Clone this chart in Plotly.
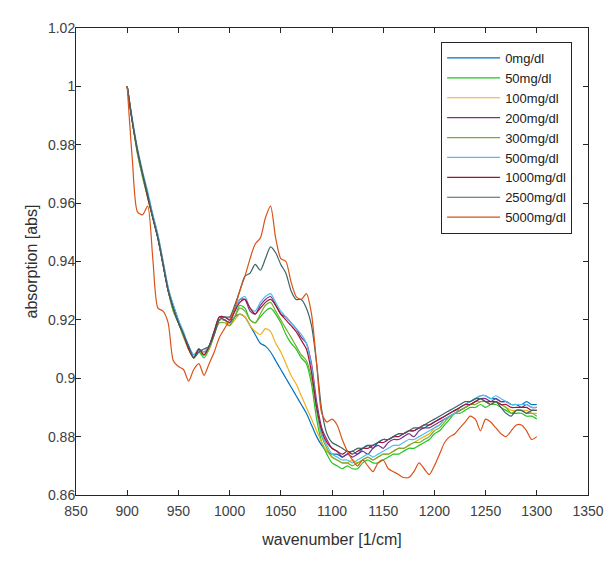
import plotly.graph_objects as go

# wavenumber grid (1/cm)
wavenumber = list(range(900, 1301, 5))

series_names = ["0mg/dl", "50mg/dl", "100mg/dl", "200mg/dl", "300mg/dl",
                "500mg/dl", "1000mg/dl", "2500mg/dl", "5000mg/dl"]
series_colors = ["#0072BD", "#1FC41F", "#EDB120", "#7E2F8E", "#77AC30",
                 "#4DBEEE", "#A2142F", "#3D6565", "#D95319"]

abs_0 = [
    1.000, 0.988, 0.978, 0.970, 0.963, 0.956, 0.949, 0.940, 0.931, 0.925,
    0.920, 0.915, 0.911, 0.908, 0.910, 0.908, 0.911, 0.916, 0.920, 0.920,
    0.919, 0.921, 0.922, 0.921, 0.918, 0.915, 0.912, 0.911, 0.909, 0.906,
    0.903, 0.900, 0.897, 0.894, 0.891, 0.888, 0.884, 0.880, 0.877, 0.875,
    0.874, 0.874, 0.873, 0.874, 0.875, 0.874, 0.876, 0.877, 0.876, 0.878,
    0.879, 0.879, 0.880, 0.881, 0.881, 0.882, 0.882, 0.883, 0.883, 0.884,
    0.885, 0.886, 0.887, 0.888, 0.889, 0.890, 0.891, 0.892, 0.893, 0.894,
    0.894, 0.893, 0.893, 0.892, 0.892, 0.891, 0.891, 0.891, 0.892, 0.891,
    0.891]
abs_50 = [
    1.000, 0.988, 0.977, 0.969, 0.962, 0.955, 0.948, 0.939, 0.930, 0.923,
    0.919, 0.915, 0.910, 0.907, 0.909, 0.907, 0.910, 0.915, 0.920, 0.920,
    0.918, 0.921, 0.925, 0.924, 0.920, 0.919, 0.921, 0.923, 0.924, 0.922,
    0.919, 0.915, 0.912, 0.910, 0.907, 0.905, 0.898, 0.886, 0.878, 0.874,
    0.871, 0.870, 0.869, 0.870, 0.869, 0.869, 0.871, 0.872, 0.871, 0.871,
    0.872, 0.873, 0.874, 0.874, 0.875, 0.876, 0.876, 0.877, 0.878, 0.879,
    0.881, 0.882, 0.884, 0.886, 0.888, 0.888, 0.889, 0.890, 0.890, 0.891,
    0.890, 0.891, 0.891, 0.890, 0.889, 0.888, 0.888, 0.888, 0.887, 0.887,
    0.886]
abs_100 = [
    1.000, 0.988, 0.978, 0.970, 0.962, 0.955, 0.948, 0.939, 0.930, 0.924,
    0.919, 0.915, 0.910, 0.907, 0.910, 0.908, 0.910, 0.915, 0.920, 0.920,
    0.918, 0.920, 0.922, 0.921, 0.918, 0.916, 0.915, 0.917, 0.916, 0.912,
    0.909, 0.905, 0.901, 0.898, 0.894, 0.890, 0.886, 0.882, 0.878, 0.875,
    0.873, 0.872, 0.871, 0.871, 0.872, 0.871, 0.872, 0.873, 0.872, 0.873,
    0.874, 0.874, 0.875, 0.876, 0.876, 0.877, 0.878, 0.879, 0.880, 0.881,
    0.883, 0.884, 0.886, 0.887, 0.888, 0.889, 0.890, 0.891, 0.892, 0.892,
    0.892, 0.891, 0.892, 0.891, 0.890, 0.889, 0.889, 0.889, 0.889, 0.888,
    0.888]
abs_200 = [
    1.000, 0.988, 0.978, 0.970, 0.963, 0.955, 0.948, 0.939, 0.930, 0.924,
    0.919, 0.915, 0.911, 0.907, 0.910, 0.909, 0.911, 0.916, 0.921, 0.920,
    0.919, 0.923, 0.927, 0.927, 0.923, 0.922, 0.925, 0.927, 0.928, 0.925,
    0.922, 0.921, 0.919, 0.917, 0.914, 0.912, 0.905, 0.892, 0.883, 0.879,
    0.876, 0.875, 0.873, 0.874, 0.873, 0.874, 0.875, 0.874, 0.876, 0.877,
    0.876, 0.878, 0.879, 0.879, 0.880, 0.881, 0.880, 0.882, 0.883, 0.883,
    0.884, 0.885, 0.886, 0.887, 0.888, 0.889, 0.890, 0.891, 0.892, 0.893,
    0.893, 0.892, 0.893, 0.892, 0.892, 0.891, 0.891, 0.890, 0.891, 0.890,
    0.890]
abs_300 = [
    1.000, 0.988, 0.977, 0.969, 0.962, 0.955, 0.948, 0.939, 0.930, 0.923,
    0.919, 0.914, 0.910, 0.907, 0.909, 0.908, 0.910, 0.915, 0.919, 0.919,
    0.918, 0.921, 0.924, 0.923, 0.920, 0.919, 0.922, 0.925, 0.926, 0.923,
    0.920, 0.917, 0.914, 0.911, 0.908, 0.906, 0.900, 0.889, 0.880, 0.876,
    0.873, 0.872, 0.871, 0.871, 0.870, 0.871, 0.872, 0.873, 0.872, 0.873,
    0.874, 0.874, 0.875, 0.876, 0.876, 0.877, 0.878, 0.878, 0.879, 0.880,
    0.882, 0.883, 0.885, 0.887, 0.888, 0.889, 0.890, 0.891, 0.891, 0.892,
    0.892, 0.891, 0.892, 0.891, 0.890, 0.888, 0.889, 0.889, 0.888, 0.888,
    0.887]
abs_500 = [
    1.000, 0.989, 0.979, 0.971, 0.964, 0.956, 0.949, 0.940, 0.931, 0.925,
    0.920, 0.916, 0.911, 0.908, 0.910, 0.909, 0.911, 0.916, 0.921, 0.921,
    0.920, 0.923, 0.927, 0.928, 0.924, 0.923, 0.926, 0.928, 0.929, 0.926,
    0.923, 0.921, 0.919, 0.917, 0.915, 0.912, 0.904, 0.890, 0.881, 0.877,
    0.874, 0.873, 0.872, 0.872, 0.871, 0.872, 0.873, 0.874, 0.873, 0.874,
    0.875, 0.876, 0.877, 0.877, 0.878, 0.879, 0.879, 0.880, 0.881, 0.882,
    0.883, 0.884, 0.886, 0.887, 0.888, 0.890, 0.891, 0.892, 0.893, 0.894,
    0.894, 0.893, 0.894, 0.893, 0.892, 0.891, 0.891, 0.891, 0.891, 0.890,
    0.890]
abs_1000 = [
    1.000, 0.988, 0.978, 0.970, 0.962, 0.955, 0.948, 0.939, 0.930, 0.924,
    0.919, 0.915, 0.910, 0.907, 0.910, 0.908, 0.911, 0.916, 0.921, 0.921,
    0.920, 0.923, 0.926, 0.927, 0.924, 0.922, 0.924, 0.926, 0.927, 0.925,
    0.922, 0.920, 0.918, 0.916, 0.913, 0.910, 0.902, 0.890, 0.882, 0.878,
    0.876, 0.875, 0.874, 0.875, 0.874, 0.875, 0.876, 0.876, 0.877, 0.878,
    0.878, 0.879, 0.880, 0.880, 0.881, 0.882, 0.882, 0.883, 0.884, 0.884,
    0.885, 0.886, 0.887, 0.888, 0.889, 0.890, 0.891, 0.891, 0.892, 0.893,
    0.892, 0.892, 0.892, 0.891, 0.891, 0.890, 0.890, 0.890, 0.890, 0.889,
    0.889]
abs_2500 = [
    1.000, 0.988, 0.978, 0.970, 0.963, 0.955, 0.948, 0.939, 0.930, 0.924,
    0.919, 0.915, 0.911, 0.907, 0.909, 0.910, 0.911, 0.915, 0.920, 0.921,
    0.921, 0.925, 0.930, 0.935, 0.936, 0.939, 0.937, 0.941, 0.945, 0.943,
    0.939, 0.936, 0.930, 0.927, 0.927, 0.924, 0.918, 0.905, 0.889, 0.881,
    0.878, 0.877, 0.876, 0.875, 0.875, 0.876, 0.876, 0.877, 0.877, 0.878,
    0.879, 0.879, 0.880, 0.881, 0.881, 0.882, 0.883, 0.883, 0.884, 0.885,
    0.886, 0.887, 0.888, 0.889, 0.890, 0.891, 0.892, 0.892, 0.893, 0.893,
    0.892, 0.891, 0.892, 0.890, 0.888, 0.887, 0.889, 0.889, 0.888, 0.889,
    0.889]
abs_5000 = [
    1.000, 0.975, 0.957, 0.956, 0.959, 0.941, 0.924, 0.923, 0.919, 0.906,
    0.904, 0.903, 0.899, 0.903, 0.905, 0.901, 0.905, 0.909, 0.914, 0.917,
    0.920, 0.924, 0.930, 0.935, 0.941, 0.946, 0.948, 0.955, 0.959, 0.948,
    0.941, 0.940, 0.933, 0.928, 0.927, 0.929, 0.922, 0.905, 0.888, 0.885,
    0.886, 0.884, 0.879, 0.875, 0.872, 0.870, 0.872, 0.870, 0.868, 0.871,
    0.872, 0.869, 0.868, 0.867, 0.866, 0.866, 0.868, 0.871, 0.869, 0.867,
    0.870, 0.874, 0.878, 0.880, 0.881, 0.883, 0.885, 0.887, 0.886, 0.882,
    0.886, 0.885, 0.883, 0.881, 0.880, 0.882, 0.884, 0.884, 0.882, 0.879,
    0.880]

all_series = [abs_0, abs_50, abs_100, abs_200, abs_300,
              abs_500, abs_1000, abs_2500, abs_5000]

x_tickvals = [850, 900, 950, 1000, 1050, 1100, 1150, 1200, 1250, 1300, 1350]
y_tickvals = [0.86, 0.88, 0.90, 0.92, 0.94, 0.96, 0.98, 1.00, 1.02]
y_ticktext = ["0.86", "0.88", "0.9", "0.92", "0.94", "0.96", "0.98", "1", "1.02"]

FONT = "Liberation Sans, Arial, sans-serif"
AX = "#262626"

fig = go.Figure()
for name, color, vals in zip(series_names, series_colors, all_series):
    fig.add_trace(go.Scatter(x=wavenumber, y=vals, mode="lines", name=name,
                             line=dict(color=color, width=1.2,
                                       shape="spline", smoothing=0.7)))

axis_common = dict(showgrid=False, zeroline=False, showline=True,
                   linecolor=AX, linewidth=1, mirror="ticks",
                   ticks="inside", ticklen=5, tickcolor=AX, tickwidth=1,
                   tickfont=dict(family=FONT, size=14, color="#404040"))

fig.update_xaxes(range=[850, 1350], tickvals=x_tickvals,
                 ticklabelstandoff=3,
                 title=dict(text="wavenumber [1/cm]",
                            font=dict(family=FONT, size=16, color="#303030"),
                            standoff=16),
                 **axis_common)
fig.update_yaxes(range=[0.86, 1.02], tickvals=y_tickvals, ticktext=y_ticktext,
                 ticklabelstandoff=-3,
                 title=dict(text="absorption [abs]",
                            font=dict(family=FONT, size=16, color="#303030"),
                            standoff=6),
                 **axis_common)

# page body adds an 8px margin, so the figure is sized to fit the window
fig.update_layout(
    width=608, height=554,
    margin=dict(l=68, r=26, t=18, b=67),
    paper_bgcolor="white", plot_bgcolor="white",
    showlegend=True,
    legend=dict(x=0.969, y=0.97, xanchor="right", yanchor="top",
                bgcolor="white", bordercolor=AX, borderwidth=1,
                font=dict(family=FONT, size=13, color="#202020"),
                itemwidth=53, tracegroupgap=0),
)

fig.write_html("out.html")
